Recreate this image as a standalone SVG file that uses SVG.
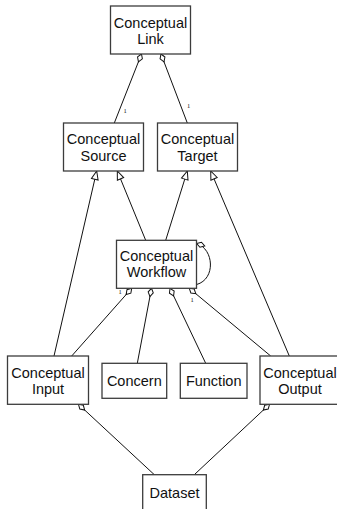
<svg xmlns="http://www.w3.org/2000/svg" width="337" height="509" viewBox="0 0 337 509">
<defs>
<style>
.box{fill:#fff;stroke:#3c3c3c;stroke-width:1.3}
.lbl{font-family:"Liberation Sans",Arial,sans-serif;font-size:14.5px;fill:#111;text-anchor:middle}
.m{font-family:"Liberation Serif","Times New Roman",serif;font-size:6.5px;fill:#111}
.c{fill:none;stroke:#111;stroke-width:1}
.agg{marker-start:url(#dia)}
.gen{marker-end:url(#tri)}
</style>
<marker id="dia" markerUnits="userSpaceOnUse" viewBox="-1 -4 11 8" refX="0" refY="0" markerWidth="11" markerHeight="8" orient="auto">
<path d="M0,0 L4.2,-2.6 L8.4,0 L4.2,2.6 Z" fill="#fff" stroke="#111" stroke-width="1"/>
</marker>
<marker id="tri" markerUnits="userSpaceOnUse" viewBox="-10 -5 11 10" refX="0" refY="0" markerWidth="11" markerHeight="10" orient="auto">
<path d="M0,0 L-8.5,-3.4 L-8.5,3.4 Z" fill="#fff" stroke="#111" stroke-width="1"/>
</marker>
</defs>
<g id="connectors">
<path class="c agg" d="M141.5,54 L114.3,123"/>
<path class="c agg" d="M161,54 L187.3,123"/>
<path class="c gen" d="M54,356 L96.7,171"/>
<path class="c gen" d="M145.7,240.3 L117.3,171"/>
<path class="c gen" d="M165.7,240.3 L187.3,171"/>
<path class="c gen" d="M289.3,356 L210.7,171"/>
<path class="c agg" d="M196.7,243.5 C214,249 216,279 196.7,284.5"/>
<path class="c agg" d="M131.7,288.3 L71.7,356"/>
<path class="c agg" d="M151.5,288.3 L137.3,363.3"/>
<path class="c agg" d="M170,288.3 L205.7,363.3"/>
<path class="c agg" d="M189.3,288.3 L270.7,356"/>
<path class="c agg" d="M78.5,404.3 L154.3,474.7"/>
<path class="c agg" d="M269.5,404.3 L194.3,474.7"/>
<text class="m" x="123.5" y="113">1</text>
<text class="m" x="187" y="108">1</text>
<text class="m" x="118.5" y="294">1</text>
<text class="m" x="190.5" y="302">1</text>
</g>
<g id="link">
<rect class="box" x="110.5" y="6" width="80" height="48"/>
<text class="lbl" x="150.5" y="27.5">Conceptual</text>
<text class="lbl" x="150.5" y="43.5">Link</text>
</g>
<g id="source">
<rect class="box" x="63.5" y="123" width="80" height="48"/>
<text class="lbl" x="103.5" y="144">Conceptual</text>
<text class="lbl" x="103.5" y="160.5">Source</text>
</g>
<g id="target">
<rect class="box" x="157.5" y="123" width="80" height="48"/>
<text class="lbl" x="197.5" y="144">Conceptual</text>
<text class="lbl" x="197.5" y="160.5">Target</text>
</g>
<g id="workflow">
<rect class="box" x="116.5" y="240.3" width="80" height="48"/>
<text class="lbl" x="156.5" y="261">Conceptual</text>
<text class="lbl" x="156.5" y="276.5">Workflow</text>
</g>
<g id="input">
<rect class="box" x="7.5" y="356" width="81" height="48.3"/>
<text class="lbl" x="48" y="377.5">Conceptual</text>
<text class="lbl" x="48" y="393.5">Input</text>
</g>
<g id="concern">
<rect class="box" x="102" y="363.3" width="64.7" height="35"/>
<text class="lbl" x="134.3" y="385.5">Concern</text>
</g>
<g id="function">
<rect class="box" x="180.3" y="363.3" width="66.7" height="35"/>
<text class="lbl" x="213.7" y="385.5">Function</text>
</g>
<g id="output">
<rect class="box" x="260" y="356" width="80" height="48.3"/>
<text class="lbl" x="300" y="377.5">Conceptual</text>
<text class="lbl" x="300" y="393.5">Output</text>
</g>
<g id="dataset">
<rect class="box" x="142.7" y="474.7" width="63.6" height="48"/>
<text class="lbl" x="174.5" y="497.5">Dataset</text>
</g>
</svg>
